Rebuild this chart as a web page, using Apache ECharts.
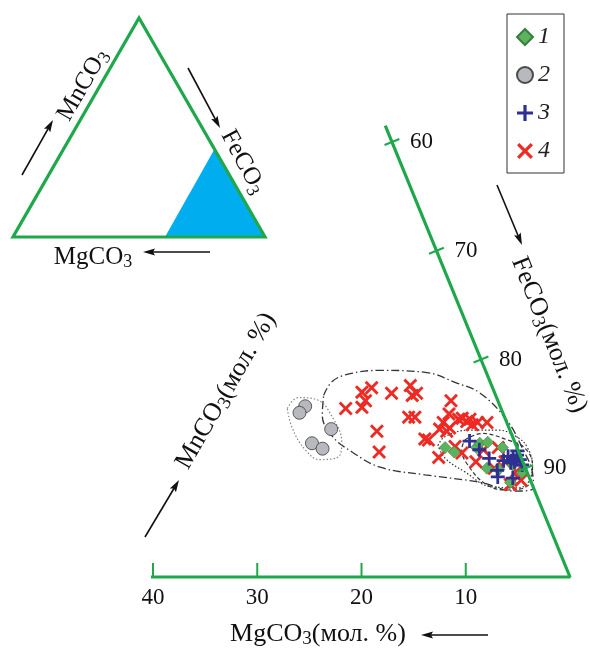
<!DOCTYPE html>
<html>
<head>
<meta charset="utf-8">
<script src="https://cdn.jsdelivr.net/npm/echarts@6/dist/echarts.min.js"></script>
<style>
html,body{margin:0;padding:0;background:#fff}
#chart{width:590px;height:648px}
</style>
</head>
<body>
<div id="chart"></div>
<script>
// compositions, mol.%: [MgCO3, MnCO3]; FeCO3 = 100 - MgCO3 - MnCO3
var group1 = [[6.9,11.9],[6.2,11.5],[3.9,11.9],[3.4,12.3],[2.6,12.4],[1.4,11.9],[3.7,10.0],[2.6,9.9],[2.0,8.7],[1.1,10.3],[0.5,9.6]];
var group2 = [[18.7,15.7],[19.5,15.1],[17.1,13.6],[19.5,12.3],[18.7,11.8]];
var group3 = [[4.3,12.5],[3.7,11.7],[3.1,10.9],[3.0,9.2],[1.6,9.1],[1.2,11.1],[0.8,10.9],[0.3,11.2],[0.2,10.8],[1.2,10.5],[1.8,10.7],[0.1,11.6],[0.2,10.3],[2.8,9.8],[0.8,10.6]];
var group4 = [[14.9,15.5],[12.7,17.0],[11.6,17.4],[12.7,16.2],[13.3,15.6],[9.9,16.9],[7.8,17.6],[8.0,16.7],[7.5,16.9],[9.2,14.7],[8.6,14.7],[12.8,13.4],[13.4,11.5],[4.5,16.2],[5.2,15.0],[6.1,14.2],[4.1,14.6],[6.7,13.6],[8.5,12.7],[7.9,11.0],[3.4,14.0],[2.8,14.2],[1.9,14.2],[3.8,14.3],[6.1,13.4],[8.2,12.6],[5.7,13.7],[3.3,11.7],[4.5,10.6],[5.5,11.4],[1.0,9.7],[0.9,8.9],[1.7,10.6],[4.5,14.5],[3.4,14.5],[5.9,12.0],[3.0,10.0],[2.1,8.5],[1.8,11.9]];

// outlines of the fields
var fieldAll = [[16.5,16.7],[15.1,18.0],[13.1,18.7],[10.1,19.0],[5.7,18.8],[3.4,17.9],[1.4,16.9],[-0.1,14.4],[-0.5,11.7],[-0.5,9.6],[0.0,8.2],[1.9,7.9],[4.9,8.7],[9.9,9.4],[13.9,10.1],[16.0,11.5],[17.3,13.0],[17.4,14.9]];
var field2 = [[20.5,15.5],[19.0,16.5],[17.3,16.3],[16.5,14.6],[16.6,12.4],[17.6,11.0],[19.4,10.8],[20.4,11.7],[20.8,13.7]];
var fieldDotted = [[7.5,12.1],[6.5,12.9],[4.0,13.5],[1.1,13.5],[-0.5,12.8],[-1.0,11.9],[-0.8,10.3],[0.3,8.7],[1.5,8.2],[4.0,8.3],[6.0,9.7],[7.3,10.9]];
var fieldDashed = [[4.7,12.6],[2.8,13.2],[0.6,12.6],[-0.7,11.9],[-0.8,10.3],[0.1,8.7],[1.3,8.1],[2.8,8.0],[4.5,8.6],[5.4,10.3],[5.4,11.7]];

var edges = [[40.7,0],[0,0],[0,41.5]];
var mgTicks = [40, 30, 20, 10];
var feTicks = [60, 70, 80, 90];

var GREEN = '#1fa84b';
var FONT = '"Liberation Serif", "Times New Roman", serif';
var K = 0.427; // slant of the FeCO3 side
function toXY(p){ return [p[0] + K * p[1], p[1]]; }
function closed(arr){ return arr.concat([arr[0]]).map(toXY); }

var PLUS = 'path://M-1,-5H1V-1H5V1H1V5H-1V1H-5V-1H-1Z';
var CROSS = 'path://M2.93,-4.14L4.14,-2.93L1.2,0L4.14,2.93L2.93,4.14L0,1.2L-2.93,4.14L-4.14,2.93L-1.2,0L-4.14,-2.93L-2.93,-4.14L0,-1.2Z';

function arrow(x1, y1, x2, y2){
  var a = Math.atan2(y2 - y1, x2 - x1), L = 12, W = 3.6;
  var bx = x2 - L * Math.cos(a), by = y2 - L * Math.sin(a);
  var nx = -Math.sin(a) * W, ny = Math.cos(a) * W;
  return [
    {type:'line', shape:{x1:x1, y1:y1, x2:bx + 3*Math.cos(a), y2:by + 3*Math.sin(a)}, style:{stroke:'#111', lineWidth:1.6}},
    {type:'polygon', shape:{points:[[x2,y2],[bx+nx,by+ny],[bx+2*Math.cos(a),by+2*Math.sin(a)],[bx-nx,by-ny]]}, style:{fill:'#111'}}
  ];
}

function label(text, x, y, deg, size){
  var m = text.split('3');
  return {
    type:'text', x:x, y:y, rotation: deg * Math.PI / 180,
    style:{
      text:'{a|' + m[0] + '}{s|3}{a|' + (m[1] || '') + '}',
      align:'center', verticalAlign:'middle',
      rich:{
        a:{fontSize:size, fontFamily:FONT, fill:'#111', lineHeight:size + 4},
        s:{fontSize:Math.round(size * 0.72), fontFamily:FONT, fill:'#111', lineHeight:12, verticalAlign:'bottom'}
      }
    }
  };
}

var graphics = [
  {type:'polygon', shape:{points:[[165,237],[265,237],[214,150]]}, style:{fill:'#00aeef'}},
  {type:'polygon', shape:{points:[[13,237],[265,237],[139,18]]}, style:{fill:'none', stroke:GREEN, lineWidth:3.2, lineJoin:'miter'}},
  label('MnCO3', 83, 85, 60, 25),
  label('FeCO3', 243, 162, -62, 25),
  label('MgCO3', 93, 257, 0, 25),
  label('MnCO3(мол. %)', 226, 391, 60, 26),
  label('FeCO3(мол. %)', 549, 335, -68, 26),
  label('MgCO3(мол. %)', 318, 634, 0, 26)
].concat(arrow(22,175,53,120), arrow(188,68,220,128), arrow(210,252,143,252),
  arrow(145,537,179,480), arrow(497,185,522,245), arrow(488,635,421,635));

var chart = echarts.init(document.getElementById('chart'));
chart.setOption({
  animation:false,
  grid:{left:153, right:20, top:142, bottom:71},
  xAxis:{type:'value', min:0, max:40, inverse:true, show:false},
  yAxis:{type:'value', min:0, max:40, show:false},
  legend:{
    data:['1','2','3','4'], orient:'vertical', left:507, top:14,
    padding:[11,14,10,9], itemGap:14, itemWidth:16, itemHeight:16,
    borderColor:'#333', borderWidth:1, selectedMode:false,
    textStyle:{fontFamily:FONT, fontStyle:'italic', fontSize:24, color:'#222'}
  },
  graphic:graphics,
  series:[
    {type:'line', data:edges.map(toXY), symbol:'none', clip:false, silent:true, z:3,
      lineStyle:{color:GREEN, width:3.2}},
    {type:'custom', data:mgTicks.map(function(v){ return [v, 0]; }), clip:false, silent:true, z:3,
      renderItem:function(params, api){
        var v = api.value(0);
        var p = api.coord(toXY([v, 0]));
        return {type:'group', children:[
          {type:'line', shape:{x1:p[0], y1:p[1], x2:p[0], y2:p[1] - 14}, style:{stroke:GREEN, lineWidth:2}},
          {type:'text', style:{text:String(v), x:p[0], y:p[1] + 21, align:'center', verticalAlign:'middle', fontSize:23, fontFamily:FONT, fill:'#111'}}
        ]};
      }},
    {type:'custom', data:feTicks.map(function(v){ return [0, 100 - v, v]; }), clip:false, silent:true, z:3,
      renderItem:function(params, api){
        var fe = api.value(2);
        var p = api.coord(toXY([0, 100 - fe]));
        var ux = 0.926 * 8, uy = -0.379 * 8;
        return {type:'group', children:[
          {type:'line', shape:{x1:p[0] - ux, y1:p[1] - uy, x2:p[0] + ux, y2:p[1] + uy}, style:{stroke:GREEN, lineWidth:2}},
          {type:'text', style:{text:String(fe), x:p[0] + 18, y:p[1], align:'left', verticalAlign:'middle', fontSize:23, fontFamily:FONT, fill:'#111'}}
        ]};
      }},
    {type:'line', data:closed(fieldAll), smooth:0.4, symbol:'none', clip:false, silent:true, z:1,
      lineStyle:{color:'#333', width:1.3, type:[8,3,1.5,3]}},
    {type:'line', data:closed(field2), smooth:0.4, symbol:'none', clip:false, silent:true, z:1,
      lineStyle:{color:'#888', width:1.2, type:[1.5,2]}},
    {type:'line', data:closed(fieldDotted), smooth:0.4, symbol:'none', clip:false, silent:true, z:1,
      lineStyle:{color:'#333', width:1.2, type:[1.5,2]}},
    {type:'line', data:closed(fieldDashed), smooth:0.4, symbol:'none', clip:false, silent:true, z:1,
      lineStyle:{color:'#333', width:1.2, type:[4,2.5]}},
    {name:'4', type:'scatter', data:group4.map(toXY), symbol:CROSS, symbolSize:14, z:2,
      itemStyle:{color:'#ee2a24', opacity:1}},
    {name:'2', type:'scatter', data:group2.map(toXY), symbol:'circle', symbolSize:13, z:2,
      itemStyle:{color:'#b7b9be', borderColor:'#4a4a4a', borderWidth:0.9, opacity:1}},
    {name:'1', type:'scatter', data:group1.map(toXY), symbol:'diamond', symbolSize:12, z:2,
      itemStyle:{color:'#5cb35e', borderColor:'#3a7d3c', borderWidth:0.6, opacity:1}},
    {name:'3', type:'scatter', data:group3.map(toXY), symbol:PLUS, symbolSize:14, z:2,
      itemStyle:{color:'#2e3192', opacity:1}}
  ]
});
</script>
</body>
</html>
